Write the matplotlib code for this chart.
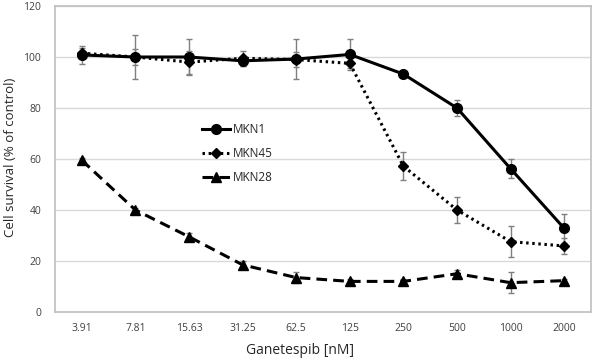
import matplotlib
matplotlib.use("Agg")
import matplotlib.pyplot as plt
import numpy as np

concentrations = ["3.91", "7.81", "15.63", "31.25", "62.5", "125", "250", "500", "1000", "2000"]
mkn1 = [100.8, 100.0, 100.0, 98.5, 99.2, 101.0, 93.3, 80.0, 56.2, 32.8]
mkn1_err = [3.6, 8.8, 7.0, 2.0, 8.0, 6.2, 1.0, 3.2, 3.8, 5.8]
mkn45 = [101.5, 100.0, 98.0, 99.5, 99.0, 97.5, 57.2, 40.0, 27.6, 25.9]
mkn45_err = [2.0, 3.0, 4.5, 3.0, 3.0, 2.0, 5.5, 5.2, 6.0, 3.0]
mkn28 = [59.5, 40.0, 29.5, 18.5, 13.5, 12.0, 12.0, 15.0, 11.5, 12.3]
mkn28_err = [0.8, 0.8, 1.5, 1.5, 2.0, 0.8, 0.8, 1.5, 4.2, 0.8]

plt.rcParams['font.family'] = ['Open Sans', 'DejaVu Sans']

fig = plt.figure(figsize=(5.94, 3.59), dpi=100)
ax = fig.add_axes([55/594, 47/359, 536/594, 306/359])

x = np.arange(len(concentrations)) + 0.5
ecol = '#7f7f7f'
ax.errorbar(x, mkn28, yerr=mkn28_err, fmt='none', ecolor=ecol, elinewidth=1, capsize=2, capthick=1, zorder=2)
ax.errorbar(x, mkn45, yerr=mkn45_err, fmt='none', ecolor=ecol, elinewidth=1, capsize=2, capthick=1, zorder=2)
ax.errorbar(x, mkn1, yerr=mkn1_err, fmt='none', ecolor=ecol, elinewidth=1, capsize=2, capthick=1, zorder=2)

ax.plot(x, mkn1, color='black', lw=2.2, marker='o', ms=7, label='MKN1', zorder=4)
ax.plot(x, mkn45, color='black', lw=2.2, ls=(0, (0.8, 1.2)), marker='D', ms=5, label='MKN45', zorder=3)
ax.plot(x, mkn28, color='black', lw=2.2, ls=(0, (3.5, 2)), marker='^', ms=7, label='MKN28', zorder=3)

ax.set_xlim(0, 10)
ax.set_ylim(0, 120)
ax.set_xticks(x)
ax.set_xticklabels(concentrations)
ax.set_yticks(np.arange(0, 121, 20))
ax.tick_params(axis='both', length=0, labelsize=7.5, colors='#404040')
ax.tick_params(axis='y', pad=10)
ax.tick_params(axis='x', pad=8)
ax.yaxis.grid(True, color='#d9d9d9', lw=1)
ax.set_axisbelow(True)
for s in ax.spines.values():
    s.set_color('#bfbfbf')
    s.set_linewidth(1.2)

fig.text(11/594, 1 - 157/359, 'Cell survival (% of control)', fontsize=9.5, color='#262626',
         ha='center', va='center', rotation=90)
fig.text(300/594, 9/359, 'Ganetespib [nM]', fontsize=10, color='#262626', ha='center', va='center')

leg = ax.legend(loc='upper left', bbox_to_anchor=((196 - 55)/536, (312 - 117)/306), frameon=False,
                fontsize=8.5, handlelength=2.4, handletextpad=0.2, labelspacing=0.95, borderpad=0)
for t in leg.get_texts():
    t.set_color('#262626')

fig.savefig('out.png', dpi=100)
